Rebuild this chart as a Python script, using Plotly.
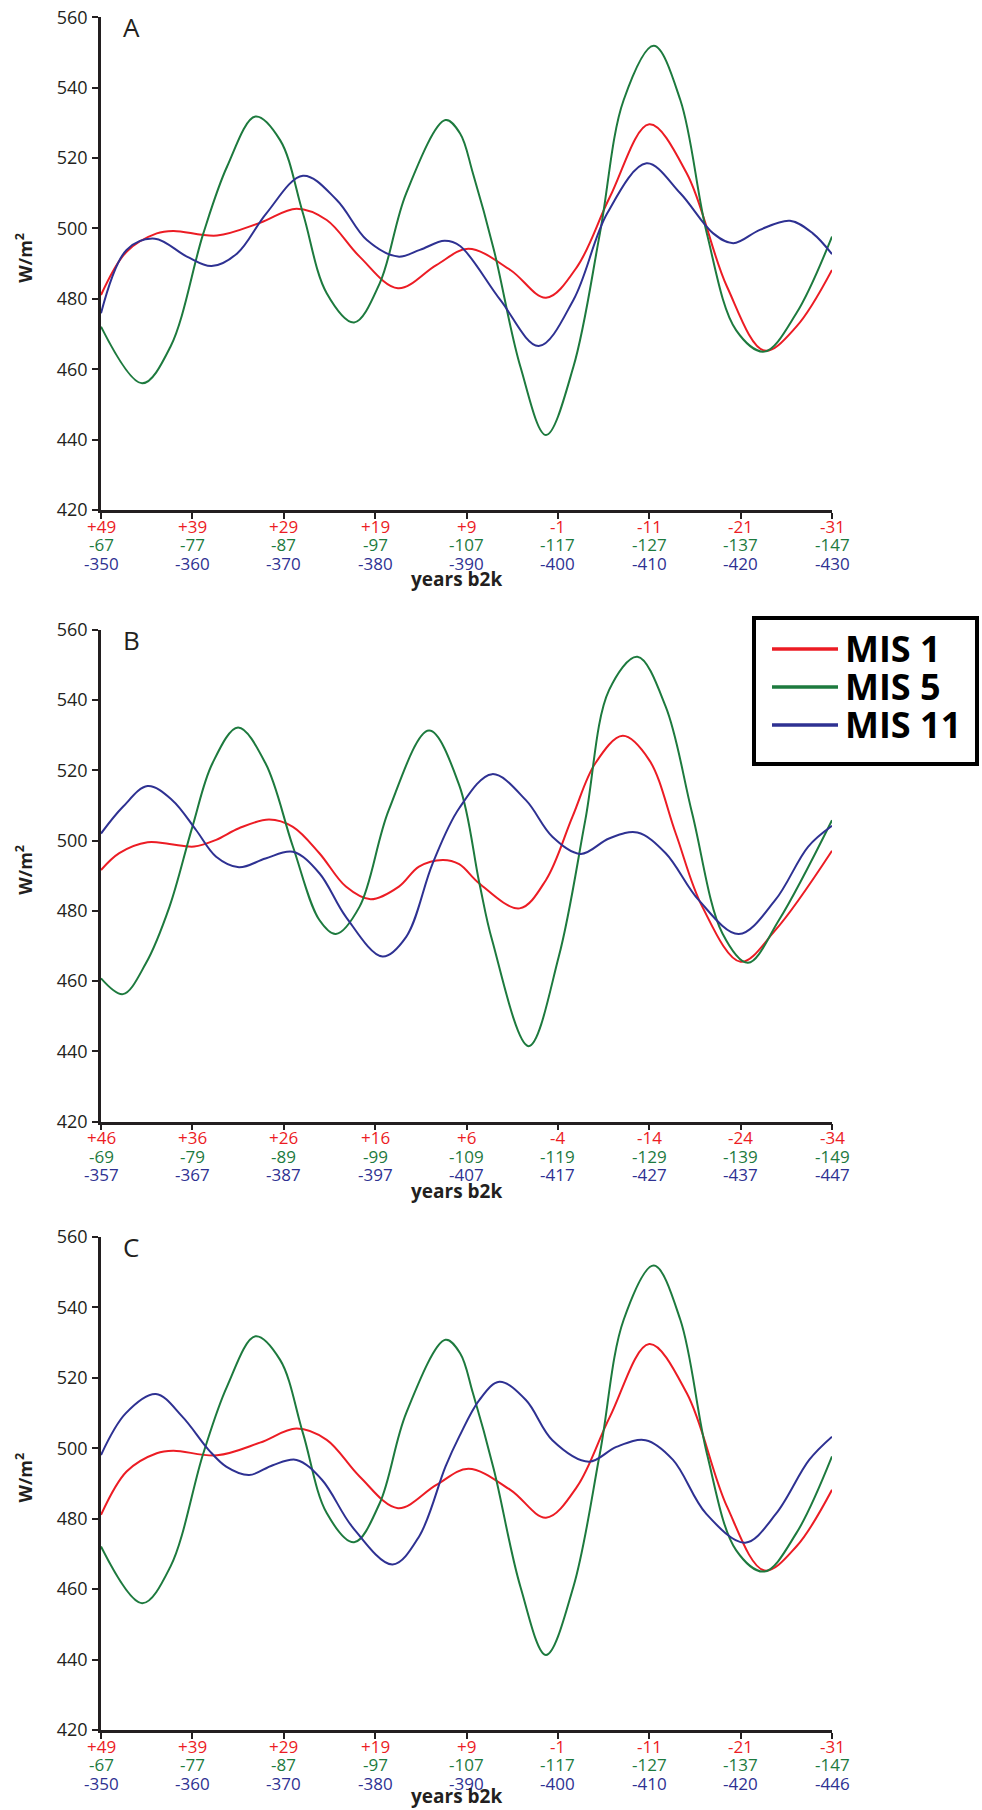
import plotly.graph_objects as go

# ---------------- data (x = kyr elapsed from the first tick of each panel) ----------------
# Panel A (and C) - MIS 1
a_mis1_x = [0, 2.8, 6.1, 7.9, 12.7, 17.4, 21.4, 24.7, 28.3, 32.5, 36.7, 40.2, 44.8, 48.7, 52.1, 55.7, 60.0, 64.1, 68.5, 72.6, 76.1, 80]
a_mis1_y = [481.1, 493.4, 498.6, 499.3, 498.0, 501.6, 505.6, 502.4, 492.0, 483.0, 489.6, 494.2, 488.2, 480.3, 489.1, 509.0, 529.6, 515.7, 483.5, 465.3, 472.1, 488.2]
# Panel A (and C) - MIS 5
a_mis5_x = [0, 4.5, 7.6, 11.2, 13.8, 16.9, 19.6, 22.1, 24.7, 27.7, 30.5, 33.4, 37.7, 39.3, 40.7, 43.0, 45.9, 48.7, 51.7, 54.6, 57.2, 60.5, 63.4, 66.3, 69.5, 72.6, 76.1, 80]
a_mis5_y = [472.1, 456.0, 466.4, 498.6, 517.6, 531.8, 525.1, 504.3, 481.6, 473.3, 484.4, 510.0, 530.8, 527.0, 515.7, 493.9, 460.7, 441.3, 460.7, 498.6, 536.5, 551.9, 536.5, 498.6, 471.1, 465.0, 475.9, 497.7]
# Panel A - MIS 11
a_mis11_x = [0, 2.8, 5.9, 9.4, 12.1, 14.9, 18.1, 22.1, 25.8, 29.1, 32.5, 34.9, 37.6, 39.3, 43.7, 47.9, 51.7, 55.4, 59.7, 63.4, 67.0, 69.2, 72.1, 75.4, 77.9, 80]
a_mis11_y = [475.9, 493.9, 497.1, 492.0, 489.3, 492.9, 504.3, 515.0, 508.1, 496.7, 492.0, 493.9, 496.5, 495.0, 479.7, 466.6, 479.7, 504.3, 518.5, 510.0, 498.6, 495.8, 499.6, 502.2, 498.6, 492.7]

# Panel B
b_mis1_x = [0, 2.0, 5.1, 7.5, 10.2, 12.6, 15.1, 18.4, 21.0, 23.9, 26.8, 29.5, 32.6, 34.8, 37.4, 39.2, 41.4, 45.8, 48.7, 51.6, 54.1, 57.1, 60.0, 62.9, 65.8, 70.0, 73.8, 80]
b_mis1_y = [491.6, 496.4, 499.5, 499.0, 498.3, 500.2, 503.5, 506.0, 503.9, 496.4, 486.9, 483.3, 486.9, 492.6, 494.5, 493.3, 487.8, 480.7, 488.8, 506.8, 522.0, 529.8, 522.9, 502.0, 481.2, 465.5, 474.5, 497.1]
b_mis5_x = [0, 2.4, 4.9, 7.5, 10.0, 12.2, 15.0, 18.0, 21.0, 23.9, 25.7, 28.3, 31.5, 35.9, 39.2, 41.4, 42.8, 46.8, 50.1, 53.0, 55.6, 58.7, 61.8, 64.7, 68.0, 70.8, 74.2, 80]
b_mis5_y = [460.8, 456.3, 465.0, 481.2, 503.9, 522.0, 532.2, 522.0, 498.3, 477.4, 473.4, 481.2, 508.7, 531.3, 515.8, 488.0, 471.7, 441.5, 467.0, 505.8, 542.8, 552.3, 538.1, 507.7, 473.6, 465.2, 477.4, 505.8]
b_mis11_x = [0, 2.4, 5.1, 7.8, 10.4, 12.6, 15.1, 18.0, 21.0, 23.9, 26.8, 30.8, 33.4, 36.3, 39.2, 42.8, 46.5, 49.4, 52.5, 55.6, 58.7, 61.8, 65.4, 69.8, 73.8, 77.4, 80]
b_mis11_y = [502.0, 509.6, 515.5, 511.5, 503.0, 495.4, 492.4, 494.9, 496.8, 490.7, 478.3, 467.0, 472.6, 493.5, 509.2, 518.9, 511.5, 501.1, 496.2, 500.6, 502.3, 496.4, 483.1, 473.4, 483.1, 498.3, 504.2]

# Panel C - MIS 11 (MIS 1 and MIS 5 are the same as panel A)
c_mis11_x = [0, 2.7, 6.0, 8.9, 11.8, 13.7, 16.2, 18.8, 21.4, 24.2, 27.5, 31.9, 34.8, 37.7, 39.2, 41.4, 43.6, 46.5, 49.4, 53.4, 56.4, 59.6, 62.6, 66.2, 70.5, 73.9, 77.5, 80]
c_mis11_y = [498.1, 509.9, 515.4, 509.0, 499.5, 494.8, 492.4, 495.2, 496.7, 491.0, 477.7, 467.0, 474.9, 494.8, 503.3, 513.7, 518.9, 513.7, 502.3, 496.2, 500.4, 502.3, 496.7, 481.5, 473.2, 481.5, 496.7, 503.3]

tick_vals = [0, 10, 20, 30, 40, 50, 60, 70, 80]
a_lab_mis1 = ["+49", "+39", "+29", "+19", "+9", "-1", "-11", "-21", "-31"]
a_lab_mis5 = ["-67", "-77", "-87", "-97", "-107", "-117", "-127", "-137", "-147"]
a_lab_mis11 = ["-350", "-360", "-370", "-380", "-390", "-400", "-410", "-420", "-430"]
b_lab_mis1 = ["+46", "+36", "+26", "+16", "+6", "-4", "-14", "-24", "-34"]
b_lab_mis5 = ["-69", "-79", "-89", "-99", "-109", "-119", "-129", "-139", "-149"]
b_lab_mis11 = ["-357", "-367", "-387", "-397", "-407", "-417", "-427", "-437", "-447"]
c_lab_mis1 = a_lab_mis1
c_lab_mis5 = a_lab_mis5
c_lab_mis11 = ["-350", "-360", "-370", "-380", "-390", "-400", "-410", "-420", "-446"]

series_names = ["MIS 1", "MIS 5", "MIS 11"]
y_ticks = [420, 440, 460, 480, 500, 520, 540, 560]

# ---------------- style ----------------
W, H = 982, 1810
RED, GREEN, BLUE = "#ec1c24", "#1d7a3e", "#2e3192"
INK = "#231f20"
colors = [RED, GREEN, BLUE]
FONT = "Open Sans, Liberation Sans, sans-serif"


def px_x(x):
    return x / W


def px_y(y):
    return 1 - y / H


x_dom = [px_x(101), px_x(832)]
panels = [
    dict(letter="A", top=17.3, bottom=510.0,
         series=[(a_mis1_x, a_mis1_y), (a_mis5_x, a_mis5_y), (a_mis11_x, a_mis11_y)],
         labels=(a_lab_mis1, a_lab_mis5, a_lab_mis11)),
    dict(letter="B", top=629.7, bottom=1121.7,
         series=[(b_mis1_x, b_mis1_y), (b_mis5_x, b_mis5_y), (b_mis11_x, b_mis11_y)],
         labels=(b_lab_mis1, b_lab_mis5, b_lab_mis11)),
    dict(letter="C", top=1237.0, bottom=1730.0,
         series=[(a_mis1_x, a_mis1_y), (a_mis5_x, a_mis5_y), (c_mis11_x, c_mis11_y)],
         labels=(c_lab_mis1, c_lab_mis5, c_lab_mis11)),
]
row_offsets = [16.0, 34.5, 53.0]   # px below the x axis for the three label rows

fig = go.Figure()
layout = dict(width=W, height=H, margin=dict(l=0, r=0, t=0, b=0, autoexpand=False),
              paper_bgcolor="white", plot_bgcolor="white", showlegend=False)
annotations = []
shapes = []

for i, p in enumerate(panels):
    n = "" if i == 0 else str(i + 1)
    xa, ya = "x" + n, "y" + n
    for (xs, ys), name, col in zip(p["series"], series_names, colors):
        fig.add_trace(go.Scatter(x=xs, y=ys, mode="lines", name=name, xaxis=xa, yaxis=ya,
                                 line=dict(color=col, width=2, shape="spline", smoothing=1.0),
                                 showlegend=False, hoverinfo="skip"))
    layout["xaxis" + n] = dict(domain=x_dom, anchor=ya, range=[0, 80], tickmode="array",
                               tickvals=tick_vals, showticklabels=False, showgrid=False,
                               zeroline=False, showline=True, linecolor=INK, linewidth=2.5,
                               ticks="outside", ticklen=6, tickwidth=2, tickcolor=INK,
                               automargin=False)
    layout["yaxis" + n] = dict(domain=[px_y(p["bottom"]), px_y(p["top"])], anchor=xa,
                               range=[420, 560], tickmode="array", tickvals=y_ticks,
                               showgrid=False, zeroline=False, showline=True, linecolor=INK,
                               linewidth=2.5, ticks="outside", ticklen=6, tickwidth=2,
                               tickcolor=INK, ticklabelstandoff=1, automargin=False,
                               tickfont=dict(family=FONT, size=18, color=INK))
    # three coloured rows of x tick labels (one per series)
    for labels, col, off in zip(p["labels"], colors, row_offsets):
        for v, lab in zip(tick_vals, labels):
            annotations.append(dict(text=lab, xref=xa, yref="paper", x=v, y=px_y(p["bottom"] + off),
                                    xanchor="center", yanchor="middle", showarrow=False,
                                    font=dict(family=FONT, size=17, color=col)))
    # panel letter
    annotations.append(dict(text=p["letter"], xref="paper", yref="paper", x=px_x(121),
                            y=px_y(p["top"] + 10), xanchor="left", yanchor="middle",
                            showarrow=False, font=dict(family=FONT, size=26, color=INK)))
    # axis titles
    annotations.append(dict(text="<b>years b2k</b>", xref="paper", yref="paper", x=px_x(456),
                            y=px_y(min(p["bottom"] + 69, 1796)), xanchor="center",
                            yanchor="middle", showarrow=False,
                            font=dict(family=FONT, size=19, color=INK)))
    annotations.append(dict(text="<b>W/m<sup>2</sup></b>", xref="paper", yref="paper", x=px_x(24),
                            y=px_y((p["top"] + p["bottom"]) / 2 - 6), xanchor="center",
                            yanchor="middle", textangle=-90, showarrow=False,
                            font=dict(family=FONT, size=18, color=INK)))

# legend box drawn in panel B (pixel layout of the reference)
shapes.append(dict(type="rect", xref="paper", yref="paper", x0=px_x(754), x1=px_x(977),
                   y0=px_y(764), y1=px_y(618), line=dict(color="black", width=4),
                   fillcolor="white", layer="above"))
for k, (name, col) in enumerate(zip(series_names, colors)):
    yy = 649 + 38 * k
    shapes.append(dict(type="line", xref="paper", yref="paper", x0=px_x(772), x1=px_x(838),
                       y0=px_y(yy), y1=px_y(yy), line=dict(color=col, width=3.6), layer="above"))
    annotations.append(dict(text=f"<b>{name}</b>", xref="paper", yref="paper", x=px_x(843),
                            y=px_y(yy - 1), xanchor="left", yanchor="middle", showarrow=False,
                            font=dict(family=FONT, size=36, color="black")))

layout["annotations"] = annotations
layout["shapes"] = shapes
fig.update_layout(**layout)
fig.write_html("out.html")
